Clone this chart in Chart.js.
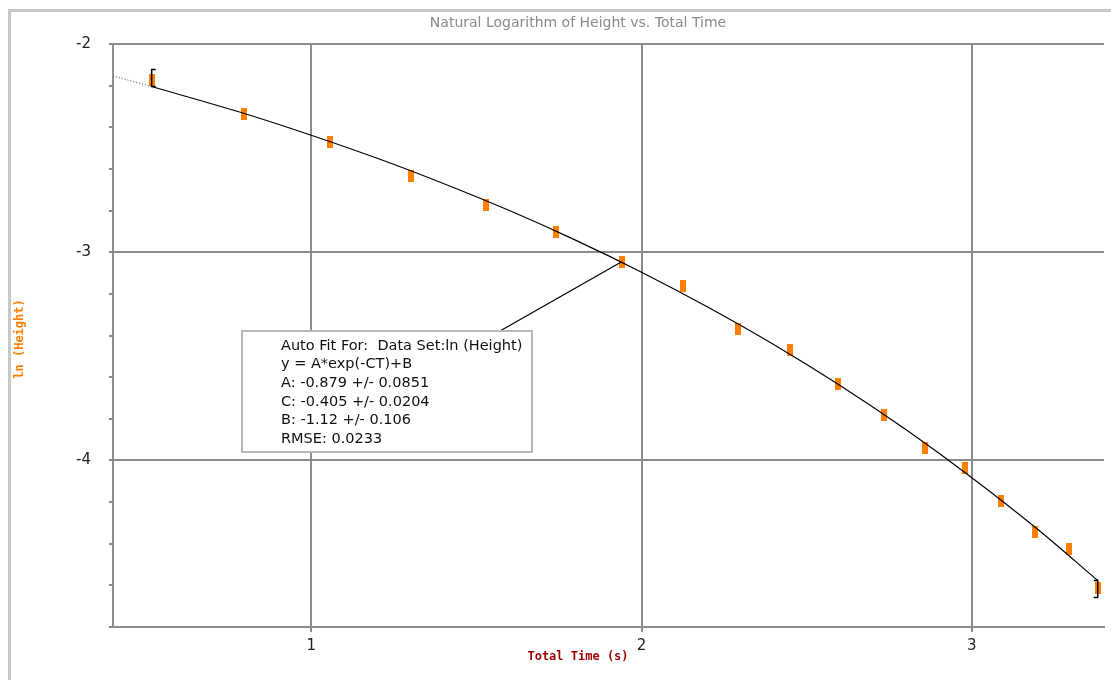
<!DOCTYPE html>
<html>
<head>
<meta charset="utf-8">
<script src="https://cdn.jsdelivr.net/npm/chart.js@4"></script>
<style>
  html, body { margin: 0; padding: 0; background: #fff; overflow: hidden; }
  canvas { display: block; }
</style>
</head>
<body>
<canvas id="grafico" width="1111" height="680"></canvas>
<script>
// dados
const tempoTotal = [0.517, 0.797, 1.058, 1.301, 1.529, 1.742, 1.940, 2.127, 2.291, 2.450, 2.596, 2.734, 2.857, 2.979, 3.088, 3.191, 3.293, 3.381];
const lnAltura = [-2.173, -2.337, -2.473, -2.633, -2.772, -2.902, -3.046, -3.161, -3.367, -3.468, -3.631, -3.784, -3.938, -4.038, -4.193, -4.342, -4.424, -4.615];

// curva do ajuste
const tempoAjuste = [0.517, 0.8, 1.0, 1.2, 1.4, 1.6, 1.8, 2.0, 2.2, 2.4, 2.6, 2.8, 3.0, 3.2, 3.381];
const lnAjuste = [-2.204, -2.335, -2.438, -2.549, -2.670, -2.800, -2.942, -3.096, -3.263, -3.443, -3.639, -3.852, -4.083, -4.332, -4.577];

// trecho pontilhado (extrapolacao)
const tempoExtra = [0.4, 0.517];
const lnExtra = [-2.154, -2.204];

const ticksX = [1, 2, 3];

const titulo = "Natural Logarithm of Height vs. Total Time";
const tituloX = "Total Time (s)";
const tituloY = "ln (Height)";
const textoAjuste = [
  "Auto Fit For:  Data Set:ln (Height)",
  "y = A*exp(-CT)+B",
  "A: -0.879 +/- 0.0851",
  "C: -0.405 +/- 0.0204",
  "B: -1.12 +/- 0.106",
  "RMSE: 0.0233"
];

const CINZA = "#8c8c8c";

// marcador laranja retangular
const marca = document.createElement("canvas");
marca.width = 6;
marca.height = 12;
const mctx = marca.getContext("2d");
mctx.fillStyle = "#ff8000";
mctx.fillRect(0, 0, 6, 12);

function ehInteiro(v) {
  return Math.abs(v - Math.round(v)) < 1e-6;
}

const extras = {
  id: "extras",
  beforeDraw(chart) {
    const c = chart.ctx;
    c.save();
    c.fillStyle = "#fff";
    c.fillRect(0, 0, chart.width, chart.height);
    // moldura externa (so esquerda e topo)
    c.fillStyle = "#c8c8c8";
    c.fillRect(8, 9, 3, chart.height);
    c.fillRect(8, 9, chart.width, 3);
    // titulo
    c.fillStyle = "#8a8a8a";
    c.font = "14px 'DejaVu Sans'";
    c.textAlign = "center";
    c.textBaseline = "middle";
    c.fillText(titulo, 578, 23);
    // titulos dos eixos
    c.font = "bold 12px 'DejaVu Sans Mono'";
    c.fillStyle = "#9e0000";
    c.fillText(tituloX, 578, 657);
    c.translate(20, 339);
    c.rotate(-Math.PI / 2);
    c.fillStyle = "#ff8000";
    c.fillText(tituloY, 0, 0);
    c.restore();
  },
  afterDatasetsDraw(chart) {
    const c = chart.ctx;
    const sx = chart.scales.x;
    const sy = chart.scales.y;
    c.save();
    // colchetes do intervalo do ajuste
    const x1 = sx.getPixelForValue(tempoAjuste[0]);
    const y1 = sy.getPixelForValue(lnAjuste[0]);
    const n = tempoAjuste.length - 1;
    const x2 = sx.getPixelForValue(tempoAjuste[n]);
    const y2 = sy.getPixelForValue(lnAjuste[n]);
    c.strokeStyle = "#000";
    c.lineWidth = 1.5;
    c.beginPath();
    c.moveTo(x1 + 4, y1 - 17);
    c.lineTo(x1, y1 - 17);
    c.lineTo(x1, y1);
    c.lineTo(x1 + 4, y1);
    c.moveTo(x2 - 4, y2);
    c.lineTo(x2, y2);
    c.lineTo(x2, y2 + 17);
    c.lineTo(x2 - 4, y2 + 17);
    c.stroke();

    // linha ligando a caixa ao ponto
    const px = sx.getPixelForValue(tempoTotal[6]);
    const py = sy.getPixelForValue(lnAltura[6]);
    c.lineWidth = 1.2;
    c.beginPath();
    c.moveTo(px, py);
    c.lineTo(500, 331);
    c.stroke();

    // caixa do ajuste
    c.fillStyle = "#fff";
    c.fillRect(242, 331, 290, 121);
    c.strokeStyle = "#b8b8b8";
    c.lineWidth = 2;
    c.strokeRect(242, 331, 290, 121);
    c.fillStyle = "#111";
    c.font = "14.5px 'DejaVu Sans'";
    c.textAlign = "left";
    c.textBaseline = "middle";
    textoAjuste.forEach((linha, i) => {
      c.fillText(linha, 281, 346 + i * 18.6);
    });
    c.restore();
  }
};

const ctx = document.getElementById("grafico").getContext("2d");

new Chart(ctx, {
  type: "scatter",
  data: {
    datasets: [
      {
        data: tempoAjuste.map((t, i) => ({ x: t, y: lnAjuste[i] })),
        showLine: true,
        borderColor: "#000",
        borderWidth: 1.2,
        pointRadius: 0,
        cubicInterpolationMode: "monotone"
      },
      {
        data: tempoExtra.map((t, i) => ({ x: t, y: lnExtra[i] })),
        showLine: true,
        borderColor: "#444",
        borderWidth: 1,
        borderDash: [1, 2],
        pointRadius: 0
      },
      {
        data: tempoTotal.map((t, i) => ({ x: t, y: lnAltura[i] })),
        pointStyle: marca,
        pointRadius: 6
      }
    ]
  },
  options: {
    responsive: false,
    animation: false,
    layout: {
      padding: { top: 44, right: 6, left: 0, bottom: 0 }
    },
    plugins: {
      legend: { display: false },
      title: { display: false },
      tooltip: { enabled: false }
    },
    scales: {
      x: {
        type: "linear",
        min: 0.4,
        max: 3.4,
        afterBuildTicks: (eixo) => {
          eixo.ticks = ticksX.map((v) => ({ value: v }));
        },
        afterFit: (eixo) => {
          eixo.height = 53;
        },
        grid: {
          color: CINZA,
          lineWidth: 2,
          tickLength: 5,
          tickColor: CINZA
        },
        border: { color: CINZA, width: 2 },
        ticks: {
          color: "#222",
          padding: 5,
          font: { family: "DejaVu Sans", size: 15 }
        }
      },
      y: {
        type: "linear",
        min: -4.8,
        max: -2,
        afterFit: (eixo) => {
          eixo.width = 113;
        },
        grid: {
          color: (c) => (ehInteiro(c.tick.value) ? CINZA : "rgba(0,0,0,0)"),
          lineWidth: 2,
          tickLength: 4,
          tickColor: CINZA
        },
        border: { color: CINZA, width: 2 },
        ticks: {
          stepSize: 0.2,
          autoSkip: false,
          color: "#222",
          padding: 18,
          font: { family: "DejaVu Sans", size: 15 },
          callback: (v) => (ehInteiro(v) ? String(Math.round(v)) : "")
        }
      }
    }
  },
  plugins: [extras]
});
</script>
</body>
</html>
